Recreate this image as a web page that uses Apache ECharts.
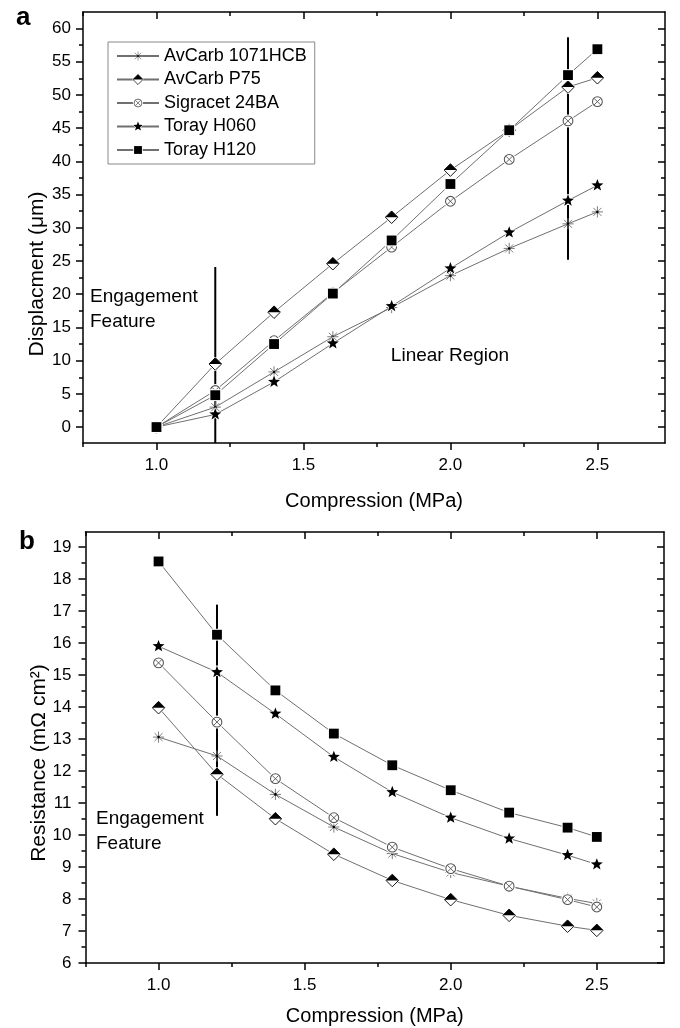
<!DOCTYPE html>
<html>
<head>
<meta charset="utf-8">
<script src="https://cdn.jsdelivr.net/npm/echarts@6/dist/echarts.min.js"></script>
<style>
  html, body { margin: 0; background: #fff; }
  #chart { width: 680px; height: 1028px; }
</style>
</head>
<body>
<div id="chart"></div>
<script>
// compression steps (MPa)
const compression = [1.0, 1.2, 1.4, 1.6, 1.8, 2.0, 2.2, 2.4, 2.5];
const seriesNames = ['AvCarb 1071HCB', 'AvCarb P75', 'Sigracet 24BA', 'Toray H060', 'Toray H120'];

// (a) displacement, µm
const dispAvCarb1071 = [0, 3.0, 8.3, 13.6, 18.0, 22.8, 26.9, 30.6, 32.4];
const dispAvCarbP75  = [0, 9.5, 17.3, 24.6, 31.6, 38.7, 44.7, 51.2, 52.6];
const dispSigracet   = [0, 5.5, 13.0, 20.2, 27.1, 34.0, 40.3, 46.1, 49.0];
const dispTorayH060  = [0, 1.9, 6.8, 12.6, 18.2, 23.9, 29.3, 34.1, 36.4];
const dispTorayH120  = [0, 4.8, 12.5, 20.1, 28.1, 36.6, 44.7, 53.0, 56.9];

// (b) resistance, mΩ cm²
const resAvCarb1071 = [13.06, 12.47, 11.27, 10.25, 9.42, 8.83, 8.40, 8.02, 7.86];
const resAvCarbP75  = [13.98, 11.90, 10.51, 9.40, 8.58, 7.98, 7.49, 7.15, 7.02];
const resSigracet   = [15.38, 13.53, 11.76, 10.54, 9.62, 8.95, 8.40, 7.98, 7.75];
const resTorayH060  = [15.90, 15.09, 13.79, 12.44, 11.34, 10.54, 9.89, 9.37, 9.08];
const resTorayH120  = [18.55, 16.26, 14.52, 13.17, 12.18, 11.40, 10.70, 10.23, 9.94];

// "engagement" marker lines
const engageA1 = [[1.2, 24.1], [1.2, -2.4]];
const engageA2 = [[2.4, 58.7], [2.4, 25.2]];
const engageB  = [[1.2, 17.2], [1.2, 10.6]];

// tick labels
const xMajorTicks = [1.0, 1.5, 2.0, 2.5];
const xMinorTicks = [0.75, 1.25, 1.75, 2.25];
const dispMajorTicks = [0, 5, 10, 15, 20, 25, 30, 35, 40, 45, 50, 55, 60];
const dispMinorTicks = [2.5, 7.5, 12.5, 17.5, 22.5, 27.5, 32.5, 37.5, 42.5, 47.5, 52.5, 57.5];
const resMajorTicks = [6, 7, 8, 9, 10, 11, 12, 13, 14, 15, 16, 17, 18, 19];
const resMinorTicks = [6.5, 7.5, 8.5, 9.5, 10.5, 11.5, 12.5, 13.5, 14.5, 15.5, 16.5, 17.5, 18.5];

const FONT = 'Liberation Sans, Arial, Helvetica, sans-serif';

// Origin-like markers as small svg images
const svgWrap = body => 'image://data:image/svg+xml;charset=utf-8,' + encodeURIComponent(
  '<svg xmlns="http://www.w3.org/2000/svg" width="40" height="40" viewBox="-10 -10 20 20">' + body + '</svg>');

const markers = [
  svgWrap('<path d="M0 -8V8M-8 0H8M-5.7 -5.7L5.7 5.7M-5.7 5.7L5.7 -5.7" stroke="#7a7a7a" stroke-width="1.4" fill="none"/>' +
          '<circle r="1.8" fill="#000"/>'),
  svgWrap('<path d="M0 -9L9 0L0 9L-9 0Z" fill="#fff" stroke="#fff" stroke-width="3"/>' +
          '<path d="M-9 0L0 -9L9 0Z" fill="#000"/>' +
          '<path d="M0 -9L9 0L0 9L-9 0Z" fill="none" stroke="#000" stroke-width="1.3"/>'),
  svgWrap('<circle r="8" fill="#fff" stroke="#fff" stroke-width="2.5"/>' +
          '<circle r="7" fill="#fff" stroke="#555" stroke-width="1.5"/>' +
          '<path d="M-4.6 -4.6L4.6 4.6M-4.6 4.6L4.6 -4.6" stroke="#555" stroke-width="1.3"/>'),
  svgWrap('<polygon points="0,-9 2.23,-3.07 8.56,-2.78 3.61,1.17 5.29,7.28 0,3.8 -5.29,7.28 -3.61,1.17 -8.56,-2.78 -2.23,-3.07" ' +
          'fill="#000" stroke="#fff" stroke-width="2" paint-order="stroke"/>'),
  svgWrap('<rect x="-7" y="-7" width="14" height="14" fill="#000" stroke="#fff" stroke-width="3" paint-order="stroke"/>')
];

const dispSets = [dispAvCarb1071, dispAvCarbP75, dispSigracet, dispTorayH060, dispTorayH120];
const resSets = [resAvCarb1071, resAvCarbP75, resSigracet, resTorayH060, resTorayH120];

const blackLine = { color: '#000', width: 1.5 };

/**
 * 4 axes per side pair: main (line, major ticks, labels), minor ticks,
 * mirror (frame, inward major ticks), mirror minor ticks
 */
function frameAxes(gridIndex, pos, mirrorPos, min, max, major, minor, main) {
  const base = {
    type: 'value', gridIndex, min, max,
    splitLine: { show: false }, axisPointer: { show: false }
  };
  const line = { show: true, onZero: false, lineStyle: blackLine };
  const noLine = { show: false, onZero: false };
  return [
    Object.assign({}, base, {
      position: pos, axisLine: line,
      axisTick: { customValues: major, length: 7, lineStyle: blackLine },
      axisLabel: Object.assign({ customValues: major, color: '#000', fontSize: 17, fontFamily: FONT }, main.label),
      name: main.name, nameLocation: 'middle', nameGap: main.nameGap,
      nameTextStyle: { color: '#000', fontSize: 20, fontFamily: FONT }
    }),
    Object.assign({}, base, {
      position: pos, axisLine: noLine,
      axisTick: { customValues: minor, length: 4, lineStyle: blackLine },
      axisLabel: { show: false }
    }),
    Object.assign({}, base, {
      position: mirrorPos, axisLine: line,
      axisTick: { customValues: major, length: 7, inside: true, lineStyle: blackLine },
      axisLabel: { show: false }
    }),
    Object.assign({}, base, {
      position: mirrorPos, axisLine: noLine,
      axisTick: { customValues: minor, length: 4, inside: true, lineStyle: blackLine },
      axisLabel: { show: false }
    })
  ];
}

const xFmt = { formatter: v => v.toFixed(1), margin: 14 };

const xAxes = [
  ...frameAxes(0, 'bottom', 'top', 0.75, 2.73, xMajorTicks, xMinorTicks,
    { label: xFmt, name: 'Compression (MPa)', nameGap: 48 }),
  ...frameAxes(1, 'bottom', 'top', 0.75, 2.73, xMajorTicks, xMinorTicks,
    { label: xFmt, name: 'Compression (MPa)', nameGap: 43 })
];
// y titles are placed as graphic text (they sit lower than the axis centre)
const yAxes = [
  ...frameAxes(0, 'left', 'right', -2.4, 62.5, dispMajorTicks, dispMinorTicks,
    { label: { margin: 12 } }),
  ...frameAxes(1, 'left', 'right', 6, 19.47, resMajorTicks, resMinorTicks,
    { label: { margin: 14 } })
];

function dataSeries(sets, axisIndex) {
  return sets.map((vals, i) => ({
    name: seriesNames[i],
    type: 'line',
    xAxisIndex: axisIndex, yAxisIndex: axisIndex,
    data: compression.map((c, j) => [c, vals[j]]),
    symbol: markers[i],
    symbolSize: 14,
    color: '#707070',
    lineStyle: { color: '#707070', width: 1 },
    z: 3
  }));
}

function engageSeries(pts, axisIndex) {
  return {
    type: 'line', xAxisIndex: axisIndex, yAxisIndex: axisIndex,
    data: pts, showSymbol: false, symbol: 'none', silent: true,
    lineStyle: { color: '#000', width: 2 }, z: 2
  };
}

const textStyle = { fill: '#000', fontSize: 19, fontFamily: FONT, lineHeight: 25 };
const yTitleStyle = { fill: '#000', fontSize: 21, fontFamily: FONT, align: 'center', verticalAlign: 'middle' };

const chart = echarts.init(document.getElementById('chart'));
chart.setOption({
  animation: false,
  backgroundColor: '#fff',
  textStyle: { fontFamily: FONT },
  grid: [
    { left: 83, top: 12, width: 582, height: 431, containLabel: false, outerBoundsMode: 'none' },
    { left: 85.5, top: 532, width: 578.5, height: 431, containLabel: false, outerBoundsMode: 'none' }
  ],
  xAxis: xAxes,
  yAxis: yAxes,
  legend: {
    data: seriesNames,
    orient: 'vertical',
    left: 108, top: 42,
    padding: [4, 8, 4, 8],
    itemGap: 3.5,
    itemWidth: 42, itemHeight: 14,
    borderColor: '#888', borderWidth: 1,
    backgroundColor: '#fff',
    selectedMode: false,
    textStyle: { color: '#000', fontSize: 18, lineHeight: 20, fontFamily: FONT }
  },
  series: [
    engageSeries(engageA1, 0),
    engageSeries(engageA2, 0),
    engageSeries(engageB, 4),
    ...dataSeries(dispSets, 0),
    ...dataSeries(resSets, 4)
  ],
  graphic: [
    { type: 'text', left: 16, top: 5, style: { text: 'a', fill: '#000', font: 'bold 26px ' + FONT } },
    { type: 'text', left: 19, top: 529, style: { text: 'b', fill: '#000', font: 'bold 26px ' + FONT } },
    { type: 'text', x: 37, y: 274, rotation: Math.PI / 2, style: Object.assign({ text: 'Displacment (μm)' }, yTitleStyle) },
    { type: 'text', x: 39, y: 763, rotation: Math.PI / 2, style: Object.assign({ text: 'Resistance (mΩ cm²)' }, yTitleStyle) },
    { type: 'text', left: 90, top: 284, style: Object.assign({ text: 'Engagement\nFeature' }, textStyle) },
    { type: 'text', x: 450, y: 356, style: Object.assign({ text: 'Linear Region', align: 'center', verticalAlign: 'middle' }, textStyle) },
    { type: 'text', left: 96, top: 806, style: Object.assign({ text: 'Engagement\nFeature' }, textStyle) }
  ]
});
</script>
</body>
</html>
